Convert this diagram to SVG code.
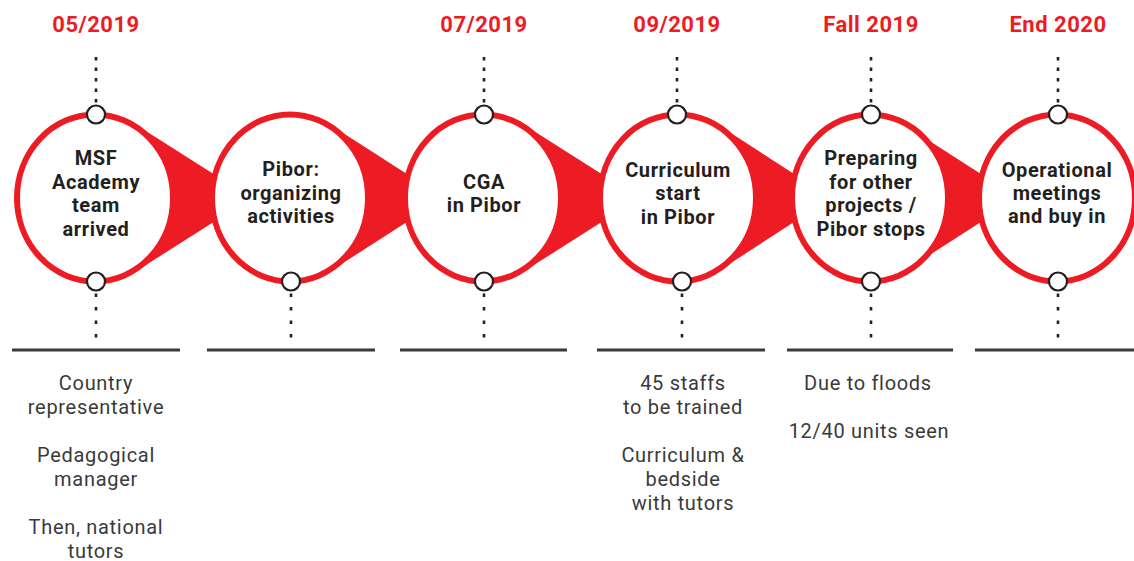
<svg xmlns="http://www.w3.org/2000/svg" width="1134" height="561" viewBox="0 0 1134 561">
<style>
.date{font-family:Roboto,"Liberation Sans",sans-serif;font-weight:700;font-size:22px;fill:#ED1C24;text-anchor:middle;letter-spacing:0.5px}
.lbl{font-family:Roboto,"Liberation Sans",sans-serif;font-weight:700;font-size:20px;fill:#231F20;text-anchor:middle;letter-spacing:0.6px}
.note{font-family:Roboto,"Liberation Sans",sans-serif;font-weight:400;font-size:20px;fill:#3A3A3A;text-anchor:middle;letter-spacing:0.7px}
.ring{fill:#FFFFFF;stroke:#ED1C24;stroke-width:6}
.wedge{fill:#ED1C24}
.pin{fill:#FFFFFF;stroke:#231F20;stroke-width:2.2}
.dots{stroke:#231F20;stroke-width:2.6;fill:none}
.top{stroke-dasharray:3.5 7}
.bot{stroke-dasharray:3.5 10}
.base{stroke:#3A3A3A;stroke-width:2.8}
</style>
<g id="connectors">
<polygon class="wedge" points="134,123.4 240,190.7 240,205.3 134,272.6"/>
<polygon class="wedge" points="329,124 433,190.7 433,205.3 329,272"/>
<polygon class="wedge" points="522,123.4 628,190.7 628,205.3 522,272.6"/>
<polygon class="wedge" points="717,124 820,190.7 820,205.3 717,272"/>
<polygon class="wedge" points="909,127.8 1007,190.7 1007,205.3 909,268.2"/>
</g>
<g id="baselines">
<line class="base" x1="12" y1="350" x2="180" y2="350"/>
<line class="base" x1="207" y1="350" x2="375" y2="350"/>
<line class="base" x1="400" y1="350" x2="567" y2="350"/>
<line class="base" x1="597" y1="350" x2="765" y2="350"/>
<line class="base" x1="787" y1="350" x2="953" y2="350"/>
<line class="base" x1="975" y1="350" x2="1134" y2="350"/>
</g>
<g id="node1">
<text class="date" x="96" y="32">05/2019</text>
<line class="dots top" x1="96" y1="57" x2="96" y2="105"/>
<line class="dots bot" x1="96" y1="293.5" x2="96" y2="340"/>
<ellipse class="ring" cx="95" cy="198" rx="78" ry="83.5"/>
<circle class="pin" cx="96" cy="114.5" r="9"/>
<circle class="pin" cx="96" cy="281.5" r="9"/>
<text class="lbl" x="96" y="165">MSF</text>
<text class="lbl" x="96" y="189">Academy</text>
<text class="lbl" x="96" y="212">team</text>
<text class="lbl" x="96" y="236">arrived</text>
<text class="note" x="96" y="390">Country</text>
<text class="note" x="96" y="414">representative</text>
<text class="note" x="96" y="462">Pedagogical</text>
<text class="note" x="96" y="486">manager</text>
<text class="note" x="96" y="534">Then, national</text>
<text class="note" x="96" y="558">tutors</text>
</g>
<g id="node2">
<line class="dots bot" x1="291" y1="293.5" x2="291" y2="340"/>
<ellipse class="ring" cx="290" cy="198" rx="78" ry="83.5"/>
<circle class="pin" cx="291" cy="281.5" r="9"/>
<text class="lbl" x="291" y="176">Pibor:</text>
<text class="lbl" x="291" y="200">organizing</text>
<text class="lbl" x="291" y="223">activities</text>
</g>
<g id="node3">
<text class="date" x="484" y="32">07/2019</text>
<line class="dots top" x1="484" y1="57" x2="484" y2="105"/>
<line class="dots bot" x1="484" y1="293.5" x2="484" y2="340"/>
<ellipse class="ring" cx="483" cy="198" rx="78" ry="83.5"/>
<circle class="pin" cx="484" cy="114.5" r="9"/>
<circle class="pin" cx="484" cy="281.5" r="9"/>
<text class="lbl" x="484" y="189">CGA</text>
<text class="lbl" x="484" y="212">in Pibor</text>
</g>
<g id="node4">
<text class="date" x="677" y="32">09/2019</text>
<line class="dots top" x1="677" y1="57" x2="677" y2="105"/>
<line class="dots bot" x1="682" y1="293.5" x2="682" y2="340"/>
<ellipse class="ring" cx="678" cy="198" rx="78" ry="83.5"/>
<circle class="pin" cx="677" cy="114.5" r="9"/>
<circle class="pin" cx="682" cy="281.5" r="9"/>
<text class="lbl" x="678" y="177">Curriculum</text>
<text class="lbl" x="678" y="200">start</text>
<text class="lbl" x="678" y="224">in Pibor</text>
<text class="note" x="683" y="390">45 staffs</text>
<text class="note" x="683" y="414">to be trained</text>
<text class="note" x="683" y="462">Curriculum &amp;</text>
<text class="note" x="683" y="486">bedside</text>
<text class="note" x="683" y="510">with tutors</text>
</g>
<g id="node5">
<text class="date" x="871" y="32">Fall 2019</text>
<line class="dots top" x1="871" y1="57" x2="871" y2="105"/>
<line class="dots bot" x1="871" y1="293.5" x2="871" y2="340"/>
<ellipse class="ring" cx="870" cy="198" rx="78" ry="83.5"/>
<circle class="pin" cx="871" cy="114.5" r="9"/>
<circle class="pin" cx="871" cy="281.5" r="9"/>
<text class="lbl" x="871" y="165">Preparing</text>
<text class="lbl" x="871" y="189">for other</text>
<text class="lbl" x="871" y="212">projects /</text>
<text class="lbl" x="871" y="236">Pibor stops</text>
<text class="note" x="868" y="390">Due to floods</text>
<text class="note" x="869" y="438">12/40 units seen</text>
</g>
<g id="node6">
<text class="date" x="1058" y="32">End 2020</text>
<line class="dots top" x1="1058" y1="57" x2="1058" y2="105"/>
<line class="dots bot" x1="1058" y1="293.5" x2="1058" y2="340"/>
<ellipse class="ring" cx="1057" cy="198" rx="78" ry="83.5"/>
<circle class="pin" cx="1058" cy="114.5" r="9"/>
<circle class="pin" cx="1058" cy="281.5" r="9"/>
<text class="lbl" x="1057" y="177">Operational</text>
<text class="lbl" x="1057" y="200">meetings</text>
<text class="lbl" x="1057" y="223">and buy in</text>
</g>
</svg>
